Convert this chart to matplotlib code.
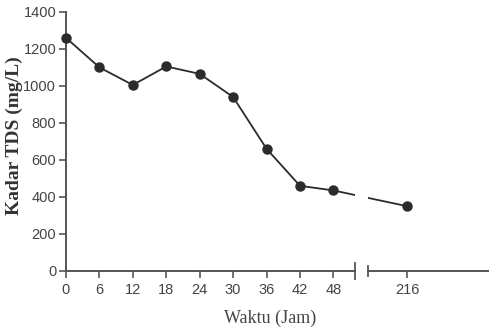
import numpy as np
import matplotlib
matplotlib.use("Agg")
import matplotlib.pyplot as plt

## data
jam_awal = [0, 6, 12, 18, 24, 30, 36, 42, 48]
tds_awal = [1260, 1100, 1005, 1105, 1065, 940, 660, 460, 435]
jam_akhir = [216]
tds_akhir = [350]
y_ticks = [0, 200, 400, 600, 800, 1000, 1200, 1400]

warna = '#2b2b2b'
sumbu = '#555555'

fig = plt.figure(figsize=(4.96, 3.30), dpi=100)
ax1 = fig.add_axes([0.133, 0.179, 0.583, 0.785])
ax2 = fig.add_axes([0.742, 0.179, 0.242, 0.785], sharey=ax1)

# same hours-per-pixel scale on both parts
ax1.set_xlim(0, 51.9)
ax2.set_xlim(209, 230.5)
ax1.set_ylim(0, 1400)

# offset (in hours) of the 216 point as drawn on the left part
lompat = 13.3

ax1.plot(jam_awal, tds_awal, color=warna, lw=1.3, marker='o', ms=6.5, clip_on=False, zorder=3)
ax1.plot([jam_awal[-1], jam_awal[-1] + lompat], [tds_awal[-1], tds_akhir[0]], color=warna, lw=1.3)
ax2.plot([jam_akhir[0] - lompat, jam_akhir[0]], [tds_awal[-1], tds_akhir[0]], color=warna, lw=1.3)
ax2.plot(jam_akhir, tds_akhir, color=warna, marker='o', ms=6.5, ls='none', zorder=3)

for ax in (ax1, ax2):
    for s in ['top', 'right']:
        ax.spines[s].set_visible(False)
    ax.spines['bottom'].set_color(sumbu)
    ax.spines['bottom'].set_linewidth(1.4)
    ax.tick_params(axis='x', direction='out', length=5, width=1.2, color=sumbu,
                   labelsize=10.5, labelcolor='#444444', pad=4)

ax1.spines['left'].set_color(sumbu)
ax1.spines['left'].set_linewidth(1.4)
ax2.spines['left'].set_visible(False)
ax2.tick_params(axis='y', left=False, labelleft=False)

ax1.set_xticks(jam_awal)
ax2.set_xticks(jam_akhir)
ax1.set_yticks(y_ticks)
ax1.tick_params(axis='y', direction='out', length=5, width=1.2, color=sumbu,
                labelsize=10.5, labelcolor='#444444', pad=2)
for lab in ax1.get_xticklabels() + ax1.get_yticklabels() + ax2.get_xticklabels():
    lab.set_family('Liberation Sans')

# break marks
ax1.plot([1, 1], [-0.03, 0.03], transform=ax1.transAxes, color=sumbu, lw=1.3, clip_on=False)
ax2.plot([0, 0], [-0.02, 0.02], transform=ax2.transAxes, color=sumbu, lw=1.3, clip_on=False)

fig.text(0.028, 0.59, 'Kadar TDS (mg/L)', family='Liberation Serif', fontsize=14,
         fontweight='bold', color='#333333', rotation=90, ha='center', va='center')
fig.text(0.545, 0.022, 'Waktu (Jam)', family='Liberation Serif', fontsize=13,
         color='#444444', ha='center')

fig.savefig('out.png', dpi=100)
